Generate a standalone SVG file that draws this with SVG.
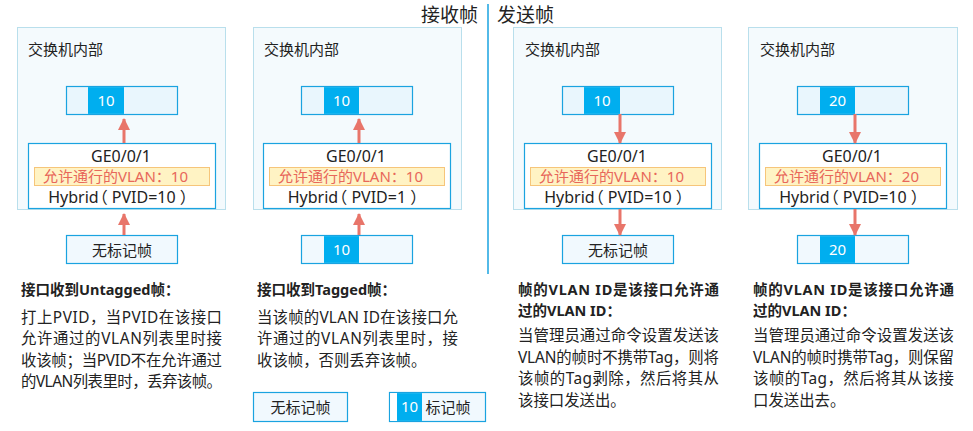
<svg xmlns="http://www.w3.org/2000/svg" width="973" height="431" viewBox="0 0 973 431">
<defs>
<style>
text{font-family:"Noto Sans","Noto Sans CJK SC",sans-serif;fill:#222}
.outer{fill:#f4fafd;stroke:#b9dfec;stroke-width:1}
.frame{fill:#e9f6fd;stroke:#1aa3e0;stroke-width:1.2}
.frame2{fill:#f1f9fe;stroke:#1aa3e0;stroke-width:1.2}
.cell{fill:#00aeef}
.port{fill:#fff;stroke:#1aa3e0;stroke-width:1.2}
.allow{fill:#fff3c4;stroke:#f6c57a;stroke-width:1}
.t15{font-size:15px}
.t16{font-size:16px}
.num{font-size:15px;fill:#fff;text-anchor:middle}
.mid{text-anchor:middle}
.red{fill:#e8675a;font-size:15px}
.hd{font-size:19px}
.bt{font-size:14.5px;font-weight:bold}
.bd{font-size:15.4px}
.arr{stroke:#e8756a;stroke-width:3;fill:none;marker-end:url(#ah)}
</style>
<marker id="ah" markerUnits="userSpaceOnUse" markerWidth="12" markerHeight="12" viewBox="0 0 12 12" refX="11" refY="6" orient="auto">
<path d="M0,0 L12,6 L0,12 Z" fill="#e8756a"/>
</marker>
</defs>

<g id="headers">
<text class="hd" x="421" y="21.5">接收帧</text>
<line x1="488" y1="4" x2="488" y2="274" stroke="#1aa3e0" stroke-width="1.5"/>
<text class="hd" x="497" y="21.5">发送帧</text>
</g>

<g id="panel1">
<rect class="outer" x="17.5" y="27.5" width="208" height="182"/>
<text class="t15" x="28" y="55">交换机内部</text>
</g>
<g id="panel2">
<rect class="outer" x="253.5" y="27.5" width="208" height="182"/>
<text class="t15" x="264" y="55">交换机内部</text>
</g>
<g id="panel3">
<rect class="outer" x="513.5" y="27.5" width="208" height="182"/>
<text class="t15" x="525" y="55">交换机内部</text>
</g>
<g id="panel4">
<rect class="outer" x="748.5" y="27.5" width="209" height="182"/>
<text class="t15" x="760" y="55">交换机内部</text>
</g>

<g id="p1-frame">
<rect class="frame" x="66.5" y="86.5" width="111" height="28"/>
<rect class="cell" x="88" y="87.1" width="36" height="26.8"/>
<text class="num" x="106" y="106">10</text>
</g>
<g id="p1-port">
<rect class="port" x="28.5" y="143.5" width="187" height="65"/>
<text class="t16 mid" x="121" y="162">GE0/0/1</text>
<rect class="allow" x="34.5" y="167.5" width="175" height="18"/>
<text class="red" x="43" y="182">允许通行的VLAN：10</text>
<text class="t16 mid" x="122" y="203">Hybrid<tspan dx="-7">（</tspan> PVID=10 ）</text>
</g>
<g id="p1-in">
<rect class="frame2" x="66.5" y="235.5" width="111" height="28"/>
<text class="t15 mid" x="122" y="255.5">无标记帧</text>
</g>

<g id="p2-frame">
<rect class="frame" x="301.5" y="86.5" width="111" height="28"/>
<rect class="cell" x="324" y="87.1" width="35" height="26.8"/>
<text class="num" x="341.5" y="106">10</text>
</g>
<g id="p2-port">
<rect class="port" x="263.5" y="143.5" width="187" height="65"/>
<text class="t16 mid" x="356" y="162">GE0/0/1</text>
<rect class="allow" x="269.5" y="167.5" width="175" height="18"/>
<text class="red" x="278" y="182">允许通行的VLAN：10</text>
<text class="t16 mid" x="357" y="203">Hybrid<tspan dx="-7">（</tspan> PVID=1 ）</text>
</g>
<g id="p2-in">
<rect class="frame2" x="301.5" y="235.5" width="111" height="28"/>
<rect class="cell" x="324" y="236.1" width="35" height="26.8"/>
<text class="num" x="341.5" y="255">10</text>
</g>

<g id="p3-frame">
<rect class="frame" x="562.5" y="86.5" width="111" height="28"/>
<rect class="cell" x="584" y="87.1" width="36" height="26.8"/>
<text class="num" x="602" y="106">10</text>
</g>
<g id="p3-port">
<rect class="port" x="524.5" y="143.5" width="187" height="65"/>
<text class="t16 mid" x="617" y="162">GE0/0/1</text>
<rect class="allow" x="530.5" y="167.5" width="175" height="18"/>
<text class="red" x="539" y="182">允许通行的VLAN：10</text>
<text class="t16 mid" x="618" y="203">Hybrid<tspan dx="-7">（</tspan> PVID=10 ）</text>
</g>
<g id="p3-out">
<rect class="frame2" x="562.5" y="235.5" width="111" height="28"/>
<text class="t15 mid" x="618" y="255.5">无标记帧</text>
</g>

<g id="p4-frame">
<rect class="frame" x="797.5" y="86.5" width="111" height="28"/>
<rect class="cell" x="820" y="87.1" width="35" height="26.8"/>
<text class="num" x="837.5" y="106">20</text>
</g>
<g id="p4-port">
<rect class="port" x="759.5" y="143.5" width="187" height="65"/>
<text class="t16 mid" x="852" y="162">GE0/0/1</text>
<rect class="allow" x="765.5" y="167.5" width="175" height="18"/>
<text class="red" x="774" y="182">允许通行的VLAN：20</text>
<text class="t16 mid" x="853" y="203">Hybrid<tspan dx="-7">（</tspan> PVID=10 ）</text>
</g>
<g id="p4-out">
<rect class="frame2" x="797.5" y="235.5" width="111" height="28"/>
<rect class="cell" x="820" y="236.1" width="35" height="26.8"/>
<text class="num" x="837.5" y="255">20</text>
</g>

<g id="connectors">
<line class="arr" x1="124" y1="143" x2="124" y2="119"/>
<line class="arr" x1="124" y1="235" x2="124" y2="214"/>
<line class="arr" x1="359" y1="143" x2="359" y2="119"/>
<line class="arr" x1="359" y1="235" x2="359" y2="214"/>
<line class="arr" x1="620" y1="114" x2="620" y2="143"/>
<line class="arr" x1="620" y1="209" x2="620" y2="235"/>
<line class="arr" x1="855" y1="114" x2="855" y2="143"/>
<line class="arr" x1="855" y1="209" x2="855" y2="235"/>
</g>

<g id="desc1">
<text class="bt" x="21" y="295">接口收到Untagged帧：</text>
<text class="bd" x="21" y="323" textLength="201" lengthAdjust="spacing">打上PVID，当PVID在该接口</text>
<text class="bd" x="21" y="344.3" textLength="201" lengthAdjust="spacing">允许通过的VLAN列表里时接</text>
<text class="bd" x="21" y="365.6" textLength="201" lengthAdjust="spacing">收该帧；当PVID不在允许通过</text>
<text class="bd" x="21" y="386.9" textLength="201" lengthAdjust="spacing">的VLAN列表里时，丢弃该帧。</text>
</g>
<g id="desc2">
<text class="bt" x="257" y="295">接口收到Tagged帧：</text>
<text class="bd" x="257" y="323" textLength="201" lengthAdjust="spacing">当该帧的VLAN ID在该接口允</text>
<text class="bd" x="257" y="344.3" textLength="201" lengthAdjust="spacing">许通过的VLAN列表里时，接</text>
<text class="bd" x="257" y="365.6">收该帧，否则丢弃该帧。</text>
</g>
<g id="desc3">
<text class="bt" x="518" y="295" textLength="201" lengthAdjust="spacing">帧的VLAN ID是该接口允许通</text>
<text class="bt" x="518" y="315.5">过的VLAN ID：</text>
<text class="bd" x="518" y="341" textLength="201" lengthAdjust="spacing">当管理员通过命令设置发送该</text>
<text class="bd" x="518" y="362.6" textLength="201" lengthAdjust="spacing">VLAN的帧时不携带Tag，则将</text>
<text class="bd" x="518" y="384.2" textLength="201" lengthAdjust="spacing">该帧的Tag剥除，然后将其从</text>
<text class="bd" x="518" y="405.8">该接口发送出。</text>
</g>
<g id="desc4">
<text class="bt" x="753" y="295" textLength="201" lengthAdjust="spacing">帧的VLAN ID是该接口允许通</text>
<text class="bt" x="753" y="315.5">过的VLAN ID：</text>
<text class="bd" x="753" y="341" textLength="201" lengthAdjust="spacing">当管理员通过命令设置发送该</text>
<text class="bd" x="753" y="362.6" textLength="201" lengthAdjust="spacing">VLAN的帧时携带Tag，则保留</text>
<text class="bd" x="753" y="384.2" textLength="201" lengthAdjust="spacing">该帧的Tag，然后将其从该接</text>
<text class="bd" x="753" y="405.8">口发送出去。</text>
</g>

<g id="legend-untagged">
<rect class="frame2" x="253.5" y="392.5" width="94" height="29"/>
<text class="t15 mid" x="300.5" y="412.5">无标记帧</text>
</g>
<g id="legend-tagged">
<rect class="frame2" x="389.5" y="392.5" width="96" height="29"/>
<rect x="390.1" y="393.1" width="7" height="27.8" fill="#fff"/>
<rect class="cell" x="397" y="393.1" width="25" height="27.8"/>
<text class="num" x="409.5" y="412">10</text>
<text class="t15" x="425.5" y="412.5">标记帧</text>
</g>
</svg>
